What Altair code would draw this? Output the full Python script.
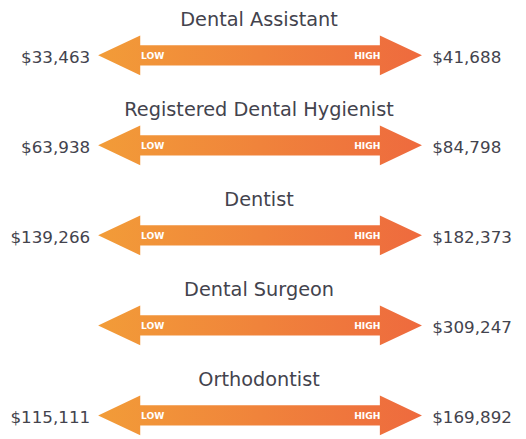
import altair as alt
import pandas as pd

# ---- data ----
jobs = ["Dental Assistant", "Registered Dental Hygienist", "Dentist",
        "Dental Surgeon", "Orthodontist"]
low_values = [33463, 63938, 139266, None, 115111]
high_values = [41688, 84798, 182373, 309247, 169892]
low_label = "LOW"
high_label = "HIGH"

df = pd.DataFrame({"job": jobs, "low": low_values, "high": high_values})

# ---- style ----
TEXT_COLOR = "#43434d"
FONT = "DejaVu Sans"
W, H = 518, 431
ARROW_PATH = ("M-1,0L-0.74,-0.123L-0.74,-0.063L0.74,-0.063L0.74,-0.123L1,0"
              "L0.74,0.123L0.74,0.063L-0.74,0.063L-0.74,0.123Z")
arrow_fill = alt.Gradient(
    gradient="linear",
    stops=[alt.GradientStop(color="#F29C38", offset=0),
           alt.GradientStop(color="#EE6A3E", offset=1)],
    x1=0, x2=1, y1=0, y2=0,
)

y_enc = alt.Y("job:N", sort=jobs, axis=None,
              scale=alt.Scale(type="point", range=[44.7, 410.4], padding=0))

base = alt.Chart(df)

arrows = base.mark_point(
    shape=ARROW_PATH, size=108175, filled=True, opacity=1,
    strokeWidth=0, fill=arrow_fill,
).encode(x=alt.value(256), y=y_enc)

titles = base.mark_text(
    font=FONT, fontSize=19.6, color=TEXT_COLOR, align="center",
    baseline="alphabetic", dy=-29.5,
).encode(x=alt.value(255), y=y_enc, text="job:N")

low_text = base.transform_filter("isValid(datum.low)").mark_text(
    font=FONT, fontSize=17, color=TEXT_COLOR, align="right",
    baseline="alphabetic", dy=7.4,
).encode(x=alt.value(83.5), y=y_enc, text=alt.Text("low:Q", format="$,d"))

high_text = base.mark_text(
    font=FONT, fontSize=17, color=TEXT_COLOR, align="left",
    baseline="alphabetic", dy=7.4,
).encode(x=alt.value(430.8), y=y_enc, text=alt.Text("high:Q", format="$,d"))

low_tag = base.mark_text(
    text=low_label, font=FONT, fontSize=9.3, fontWeight="bold", color="white",
    align="left", baseline="alphabetic", dy=3.4,
).encode(x=alt.value(135), y=y_enc)

high_tag = base.mark_text(
    text=high_label, font=FONT, fontSize=9.3, fontWeight="bold", color="white",
    align="right", baseline="alphabetic", dy=3.4,
).encode(x=alt.value(378.2), y=y_enc)

chart = alt.layer(arrows, titles, low_text, high_text, low_tag, high_tag).properties(
    width=W, height=H, padding=0,
    autosize=alt.AutoSizeParams(type="none"),
).configure_view(stroke=None)

chart.save("out.html", embed_options={"renderer": "svg", "actions": False})
